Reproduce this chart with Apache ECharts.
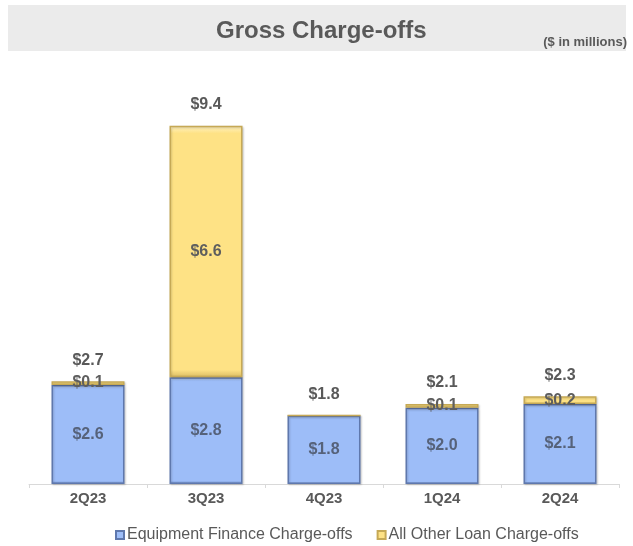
<!DOCTYPE html>
<html>
<head>
<meta charset="utf-8">
<script src="https://cdn.jsdelivr.net/npm/echarts@6/dist/echarts.min.js"></script>
<style>
  html, body { margin: 0; padding: 0; background: #ffffff; }
  #chart { width: 633px; height: 546px; }
</style>
</head>
<body>
<div id="chart"></div>
<script>
// Quarterly gross charge-offs, $ in millions
const quarters = ['2Q23', '3Q23', '4Q23', '1Q24', '2Q24'];
const equipmentFinance = [2.6, 2.8, 1.8, 2.0, 2.1];
const allOtherLoans = [0.1, 6.6, 0, 0.1, 0.2];
const totals = [2.7, 9.4, 1.8, 2.1, 2.3];

const chart = echarts.init(document.getElementById('chart'), null, { renderer: 'canvas' });

const money = v => '$' + Number(v).toFixed(1);
const font = 'Arial, "Liberation Sans", sans-serif';

function bevel(light, base, dark) {
  return {
    type: 'linear', x: 0, y: 0, x2: 0, y2: 1,
    colorStops: [
      { offset: 0, color: light },
      { offset: 0.03, color: base },
      { offset: 0.97, color: base },
      { offset: 1, color: dark }
    ]
  };
}

chart.setOption({
  animation: false,
  backgroundColor: '#ffffff',
  graphic: [
    {
      type: 'rect',
      z: -1,
      shape: { x: 8, y: 5, width: 618, height: 46 },
      style: { fill: '#ebebeb' },
      silent: true
    },
    {
      type: 'text',
      x: 627, y: 42,
      style: {
        text: '($ in millions)',
        fill: '#595959',
        font: 'bold 13px ' + font,
        align: 'right',
        verticalAlign: 'middle'
      }
    }
  ],
  title: {
    text: 'Gross Charge-offs',
    left: 216,
    top: 19,
    padding: 0,
    textStyle: { color: '#595959', fontSize: 24, fontWeight: 'bold', fontFamily: font }
  },
  legend: {
    top: 522,
    left: 110,
    itemWidth: 8,
    itemHeight: 8,
    itemGap: 24,
    icon: 'rect',
    textStyle: { color: '#595959', fontSize: 16, fontFamily: font, padding: [0, 0, 0, -2] },
    data: ['Equipment Finance Charge-offs', 'All Other Loan Charge-offs']
  },
  grid: { left: 29, right: 14, top: 103, bottom: 62 },
  xAxis: {
    type: 'category',
    data: quarters,
    axisLine: { show: true, lineStyle: { color: '#d9d9d9', width: 1 } },
    axisTick: { show: true, length: 4, lineStyle: { color: '#d9d9d9' } },
    axisLabel: { color: '#595959', fontSize: 15, fontWeight: 'bold', fontFamily: font, margin: 7 }
  },
  yAxis: {
    type: 'value',
    min: 0,
    max: 10,
    show: false,
    splitLine: { show: false }
  },
  series: [
    {
      name: 'Equipment Finance Charge-offs',
      type: 'bar',
      stack: 'co',
      barWidth: 73,
      data: equipmentFinance,
      itemStyle: {
        color: bevel('#cfe0fd', '#9dbdf8', '#6d8bc4'),
        borderColor: '#5f78ad',
        borderWidth: 1.5,
        shadowColor: 'rgba(0,0,0,0.18)',
        shadowOffsetX: 1,
        shadowOffsetY: 1,
        shadowBlur: 2
      },
      label: {
        show: true,
        position: 'inside',
        formatter: p => money(p.value),
        color: '#56627a',
        fontSize: 16,
        fontWeight: 'bold',
        fontFamily: font
      }
    },
    {
      name: 'All Other Loan Charge-offs',
      type: 'bar',
      stack: 'co',
      barWidth: 73,
      data: allOtherLoans,
      itemStyle: {
        color: bevel('#fff2c4', '#fee285', '#d9bb62'),
        borderColor: '#c6a955',
        borderWidth: 1.5,
        shadowColor: 'rgba(0,0,0,0.18)',
        shadowOffsetX: 1,
        shadowOffsetY: 1,
        shadowBlur: 2
      },
      label: {
        show: true,
        position: 'inside',
        formatter: p => (p.value > 0 ? money(p.value) : ''),
        color: '#5e5e5e',
        fontSize: 16,
        fontWeight: 'bold',
        fontFamily: font
      }
    },
    {
      // zero-height cap that carries the total above each stack
      name: 'Total',
      type: 'bar',
      stack: 'co',
      barWidth: 73,
      data: totals.map(() => 0),
      itemStyle: { color: 'transparent' },
      label: {
        show: true,
        position: 'top',
        distance: 13,
        formatter: p => money(totals[p.dataIndex]),
        color: '#595959',
        fontSize: 16,
        fontWeight: 'bold',
        fontFamily: font
      }
    }
  ]
});
</script>
</body>
</html>
